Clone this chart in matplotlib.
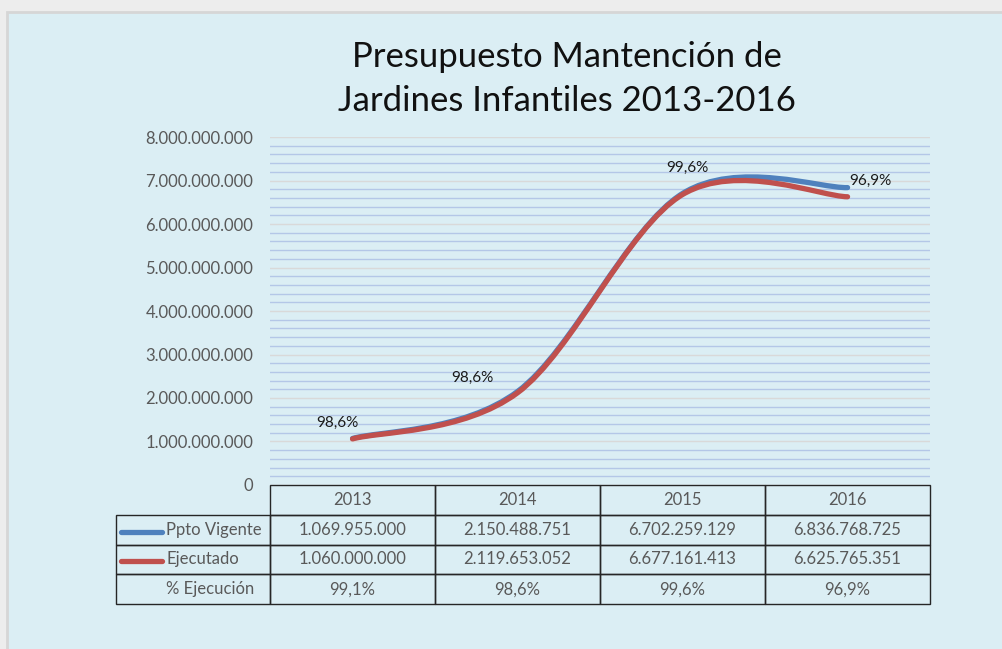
import matplotlib.pyplot as plt
from matplotlib.path import Path
from matplotlib.patches import PathPatch, Rectangle
from matplotlib.lines import Line2D
from matplotlib.ticker import FuncFormatter, MultipleLocator

# Chart data
years = ['2013', '2014', '2015', '2016']
ppto_vigente = [1069955000, 2150488751, 6702259129, 6836768725]
ejecutado = [1060000000, 2119653052, 6677161413, 6625765351]
pct_ejecucion = ['99,1%', '98,6%', '99,6%', '96,9%']
point_labels = ['98,6%', '98,6%', '99,6%', '96,9%']  # labels shown on the curve

BLUE = '#4f81bd'
RED = '#c0504d'
TEXT_GREY = '#595959'


def thousands(v, pos=None):
    return f'{int(round(v)):,}'.replace(',', '.')


def smooth_path(xs, ys):
    # Excel-style smoothed line: cubic bezier segments through the points
    pts = list(zip(xs, ys))
    verts = [pts[0]]
    codes = [Path.MOVETO]
    n = len(pts)
    for i in range(n - 1):
        p0 = pts[i - 1] if i > 0 else pts[i]
        p1 = pts[i]
        p2 = pts[i + 1]
        p3 = pts[i + 2] if i + 2 < n else pts[i + 1]
        c1 = (p1[0] + (p2[0] - p0[0]) / 6, p1[1] + (p2[1] - p0[1]) / 6)
        c2 = (p2[0] - (p3[0] - p1[0]) / 6, p2[1] - (p3[1] - p1[1]) / 6)
        verts += [c1, c2, p2]
        codes += [Path.CURVE4] * 3
    return Path(verts, codes)


fig = plt.figure(figsize=(10.02, 6.49), dpi=100, facecolor='#ededed')
fig.patches.append(Rectangle((0.007, -0.02), 1.0, 1.0015, transform=fig.transFigure,
                             facecolor='#dbeef4', edgecolor='#d6d6d6', linewidth=2,
                             zorder=-10))

ax = fig.add_axes([0.2695, 0.2527, 0.6587, 0.5362])
ax.set_facecolor('none')

x = list(range(len(years)))
ax.add_patch(PathPatch(smooth_path(x, ppto_vigente), facecolor='none', edgecolor=BLUE,
                       linewidth=3.8, capstyle='round', zorder=3))
ax.add_patch(PathPatch(smooth_path(x, ejecutado), facecolor='none', edgecolor=RED,
                       linewidth=3.8, capstyle='round', zorder=4))

offsets = [(-15, 16), (-45, 15), (5, 27), (23, 16)]
for xi, yv, lab, off in zip(x, ejecutado, point_labels, offsets):
    ax.annotate(lab, (xi, yv), xytext=off, textcoords='offset pixels', ha='center',
                va='center', fontsize=11, color='#1a1a1a', family='Lato')

ax.set_xlim(-0.5, 3.5)
ax.set_ylim(0, 8000000000)
ax.yaxis.set_major_locator(MultipleLocator(1000000000))
ax.yaxis.set_minor_locator(MultipleLocator(200000000))
ax.yaxis.set_major_formatter(FuncFormatter(thousands))
ax.grid(which='minor', axis='y', color='#b4c7e7', linewidth=1)
ax.grid(which='major', axis='y', color='#d9d9d9', linewidth=1)
ax.set_axisbelow(True)
ax.set_xticks([])
ax.tick_params(axis='y', which='both', length=0, pad=12, labelsize=12, labelcolor=TEXT_GREY)
for lab in ax.get_yticklabels():
    lab.set_family('Lato')
for s in ax.spines.values():
    s.set_visible(False)

# data table under the plot
cell_text = [
    ['Ppto Vigente'] + [thousands(v) for v in ppto_vigente],
    ['Ejecutado'] + [thousands(v) for v in ejecutado],
    ['% Ejecución'] + pct_ejecucion,
]
tbl = ax.table(cellText=cell_text, colLabels=[''] + years, cellLoc='center',
               colWidths=[154, 165, 165, 165, 165], bbox=[-0.2333, -0.342, 1.2333, 0.342])
tbl.auto_set_font_size(False)
for (r, c), cell in tbl.get_celld().items():
    cell.set_facecolor('none')
    cell.set_edgecolor('#262626')
    cell.set_linewidth(1)
    cell.get_text().set_fontsize(12)
    cell.get_text().set_color(TEXT_GREY)
    cell.get_text().set_family('Lato')
    if r == 0 and c == 0:
        cell.visible_edges = ''
    if c == 0 and r > 0:
        cell._loc = 'left'
        cell.PAD = 0.325
        cell.get_text().set_ha('left')

# legend keys inside the table row labels
for yv, col in [(-(532 - 485) / 348, BLUE), (-(561 - 485) / 348, RED)]:
    ax.add_line(Line2D([(121 - 270) / 660, (162 - 270) / 660], [yv, yv], color=col,
                       linewidth=3.8, solid_capstyle='round', transform=ax.transAxes,
                       clip_on=False))

fig.text(0.566, 0.912, 'Presupuesto Mantención de', ha='center', va='center',
         fontsize=25, family='Lato', color='#111111')
fig.text(0.566, 0.845, 'Jardines Infantiles 2013-2016', ha='center', va='center',
         fontsize=25, family='Lato', color='#111111')

fig.savefig('out.png', dpi=100, facecolor=fig.get_facecolor())
